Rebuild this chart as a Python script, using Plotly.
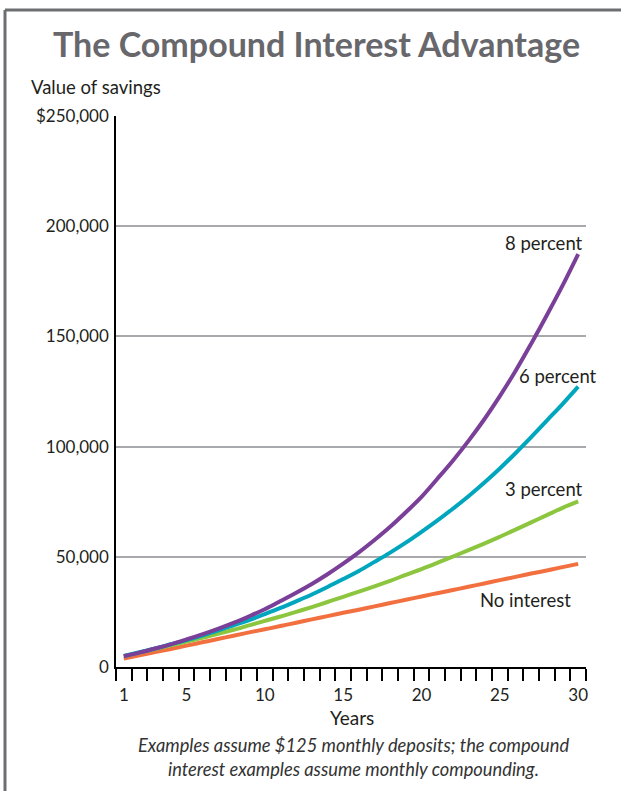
import plotly.graph_objects as go

W, H = 621, 791
L, R, T, B = 116, 35, 116, 124  # plot area px: x 116..586, y 116..667

years = list(range(1, 31))
no_interest = [3.8, 5.3, 6.8, 8.2, 9.7, 11.2, 12.7, 14.2, 15.7, 17.1, 18.6, 20.1, 21.6, 23.1, 24.6,
               26.0, 27.5, 29.0, 30.5, 32.0, 33.5, 34.9, 36.4, 37.9, 39.4, 40.9, 42.4, 43.8, 45.3, 46.8]
pct3 = [4.9, 6.5, 8.1, 9.8, 11.5, 13.2, 15.1, 16.9, 18.9, 20.9, 22.9, 25.0, 27.2, 29.5, 31.8,
        34.2, 36.6, 39.1, 41.8, 44.4, 47.2, 50.1, 53.0, 56.0, 59.1, 62.3, 65.6, 68.9, 72.2, 75.1]
pct6 = [5.0, 6.7, 8.4, 10.3, 12.2, 14.3, 16.5, 18.9, 21.3, 24.0, 26.8, 29.8, 32.9, 36.3, 39.9,
        43.6, 47.7, 51.9, 56.4, 61.3, 66.4, 71.8, 77.5, 83.6, 90.1, 97.0, 104.3, 111.8, 119.3, 127.2]
pct8 = [4.9, 6.5, 8.4, 10.3, 12.5, 14.8, 17.3, 20.0, 23.0, 26.2, 29.9, 33.7, 37.7, 42.1, 46.9,
        52.0, 57.6, 63.6, 70.2, 77.2, 85.3, 93.6, 102.6, 112.3, 122.9, 134.3, 146.7, 159.6, 173.0, 187.3]

series_names = ["No interest", "3 percent", "6 percent", "8 percent"]
series_values = [no_interest, pct3, pct6, pct8]
series_colors = ["#f2703f", "#8cc63f", "#00a6bd", "#7a3f98"]

y_tickvals = [0, 50000, 100000, 150000, 200000, 250000]
y_ticktext = ["0", "50,000", "100,000", "150,000", "200,000", "$250,000"]
x_tickvals = [1, 5, 10, 15, 20, 25, 30]
x_ticktext = ["1", "5", "10", "15", "20", "25", "30"]
x_boundaries = [i + 0.5 for i in range(0, 31)]

# label positions (pixel right edge, pixel centre y) for series labels
label_pos = {
    "8 percent": (585, 243),
    "6 percent": (599, 376),
    "3 percent": (585, 489),
    "No interest": (573, 600),
}

FONT = "Lato"
TXT = "#231f20"

fig = go.Figure()
for name, vals, col in zip(series_names, series_values, series_colors):
    fig.add_trace(go.Scatter(
        x=years, y=[v * 1000 for v in vals], mode="lines", name=name,
        line=dict(color=col, width=4, shape="spline"), hoverinfo="skip"))


def px_x(px):
    return (px - L) / (W - L - R)


def px_y(py):
    return (H - B - py) / (H - T - B)


ann = []
for name, (xp, yp) in label_pos.items():
    ann.append(dict(x=px_x(xp), y=px_y(yp), xref="paper", yref="paper", text=name, showarrow=False,
                    xanchor="right", yanchor="middle",
                    font=dict(family=FONT, size=18.5, color=TXT)))

ann.append(dict(x=px_x(316), y=px_y(43), xref="paper", yref="paper",
                text="<b>The Compound Interest Advantage</b>", showarrow=False,
                xanchor="center", yanchor="middle",
                font=dict(family=FONT, size=34, color="#67676c", weight=900)))
ann.append(dict(x=px_x(29), y=px_y(87), xref="paper", yref="paper",
                text="Value of savings", showarrow=False, xanchor="left", yanchor="middle",
                font=dict(family=FONT, size=18.5, color=TXT)))
ann.append(dict(x=px_x(352), y=px_y(717), xref="paper", yref="paper",
                text="Years", showarrow=False, xanchor="center", yanchor="middle",
                font=dict(family=FONT, size=19, color=TXT)))
ann.append(dict(x=px_x(353), y=px_y(745), xref="paper", yref="paper",
                text="<i>Examples assume $125 monthly deposits; the compound</i>",
                showarrow=False, xanchor="center", yanchor="middle",
                font=dict(family=FONT, size=18.3, color="#333333")))
ann.append(dict(x=px_x(353), y=px_y(769), xref="paper", yref="paper",
                text="<i>interest examples assume monthly compounding.</i>",
                showarrow=False, xanchor="center", yanchor="middle",
                font=dict(family=FONT, size=18.3, color="#333333")))

shapes = [
    dict(type="line", xref="paper", yref="paper", x0=px_x(5), x1=px_x(621), y0=px_y(10), y1=px_y(10),
         line=dict(color="#6d6e71", width=3)),
    dict(type="line", xref="paper", yref="paper", x0=px_x(5), x1=px_x(5), y0=px_y(10), y1=px_y(791),
         line=dict(color="#6d6e71", width=3)),
]

fig.update_layout(
    width=W, height=H, margin=dict(l=L, r=R, t=T, b=B),
    paper_bgcolor="white", plot_bgcolor="white", showlegend=False,
    annotations=ann, shapes=shapes,
    xaxis=dict(range=[0.5, 30.5], tickvals=x_tickvals, ticktext=x_ticktext,
               ticks="outside", ticklen=12, tickcolor="rgba(0,0,0,0)",
               showgrid=False, zeroline=False, showline=True, linecolor="black", linewidth=1.5,
               tickfont=dict(family=FONT, size=17, color=TXT),
               minor=dict(tickvals=x_boundaries, ticks="outside", ticklen=12,
                          tickcolor="black", tickwidth=1.5, showgrid=False)),
    yaxis=dict(range=[0, 250000], tickvals=y_tickvals, ticktext=y_ticktext,
               ticks="outside", ticklen=2, tickcolor="rgba(0,0,0,0)",
               showgrid=True, gridcolor="#a7a9ac", gridwidth=1.5,
               zeroline=False, showline=True, linecolor="black", linewidth=1.5,
               tickfont=dict(family=FONT, size=17, color=TXT)),
)

fig.write_html("out.html", config={"displayModeBar": False},
               post_script="document.body.style.margin='0';document.body.style.overflow='hidden';")
